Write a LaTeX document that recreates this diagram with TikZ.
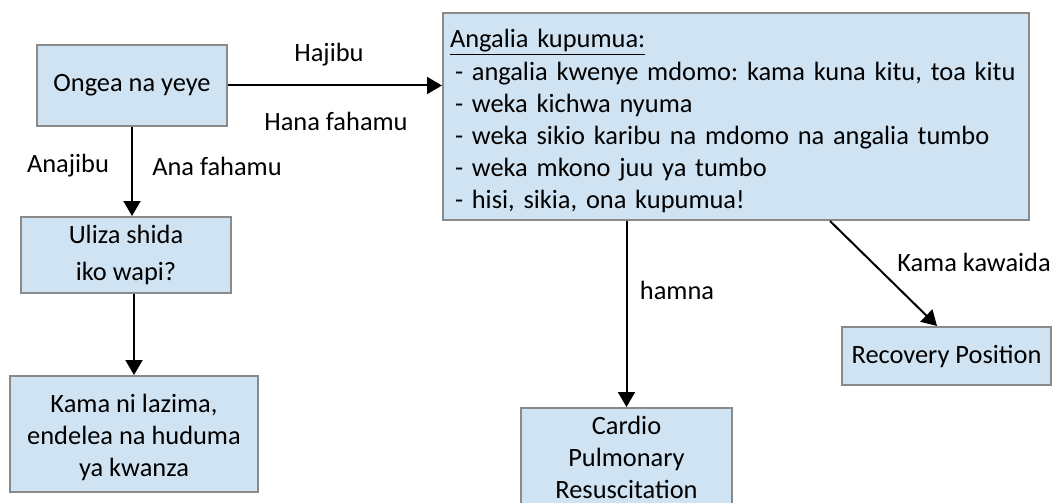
\documentclass[tikz,border=0pt]{standalone}
\usepackage{fontspec}
\setmainfont{Carlito}
\usetikzlibrary{arrows.meta}
\definecolor{boxfill}{RGB}{207,227,243}
\definecolor{boxline}{RGB}{138,138,138}
\tikzset{
  box/.style={draw=boxline, line width=2pt, fill=boxfill, rectangle, align=center, inner sep=0pt,
    font=\fontsize{26.4}{32.2}\selectfont\frenchspacing},
  lbl/.style={inner sep=0pt, font=\fontsize{26.4}{32.2}\selectfont},
  arr/.style={draw=black, line width=2pt, -{Triangle[length=15pt,width=17pt]}}
}
\begin{document}
\begin{tikzpicture}[x=1pt,y=-1pt]
\useasboundingbox (0,0) rectangle (1053,503);
\node[box, minimum width=190pt, minimum height=80pt] (A) at (132,85.5) {Ongea na yeye};
\node[box, minimum width=586pt, minimum height=207pt, text width=572pt, align=left] (B) at (736,116.5)
  {\rule{0pt}{28pt}\underline{Angalia kupumua:}\\
   \hspace*{5pt}- angalia kwenye mdomo: kama kuna kitu, toa kitu\\
   \hspace*{5pt}- weka kichwa nyuma\\
   \hspace*{5pt}- weka sikio karibu na mdomo na angalia tumbo\\
   \hspace*{5pt}- weka mkono juu ya tumbo\\
   \hspace*{5pt}- hisi, sikia, ona kupumua!};
\node[box, minimum width=210pt, minimum height=76pt] (C) at (126,255) {Uliza shida\\[4pt]iko wapi?};
\node[box, minimum width=248pt, minimum height=116pt] (D) at (134,434) {\rule{0pt}{25pt}Kama ni lazima,\\endelea na huduma\\ya kwanza};
\node[box, minimum width=211pt, inner ysep=6pt, anchor=north] (E) at (626.5,407) {\rule{0pt}{20pt}Cardio\\Pulmonary\\Resuscitation};
\node[box, minimum width=209pt, minimum height=58pt] (F) at (946.5,356) {Recovery Position};
\draw[arr] (A.east) -- (A.east -| B.west);
\draw[arr] (A.south) -- (A.south |- C.north);
\draw[arr] (D.north |- C.south) -- (D.north);
\draw[arr] (E.north |- B.south) -- (E.north);
\draw[arr] ([xshift=388pt]B.south west) -- ([xshift=96pt]F.north west);
\node[lbl] (l1) at (329,55) {Hajibu};
\node[lbl] (l2) at (336,121) {Hana fahamu};
\node[lbl] (l3) at (68,166) {Anajibu};
\node[lbl] (l4) at (217,166) {Ana fahamu};
\node[lbl] (l5) at (677,290) {hamna};
\node[lbl] (l6) at (974,262) {Kama kawaida};
\end{tikzpicture}
\end{document}
